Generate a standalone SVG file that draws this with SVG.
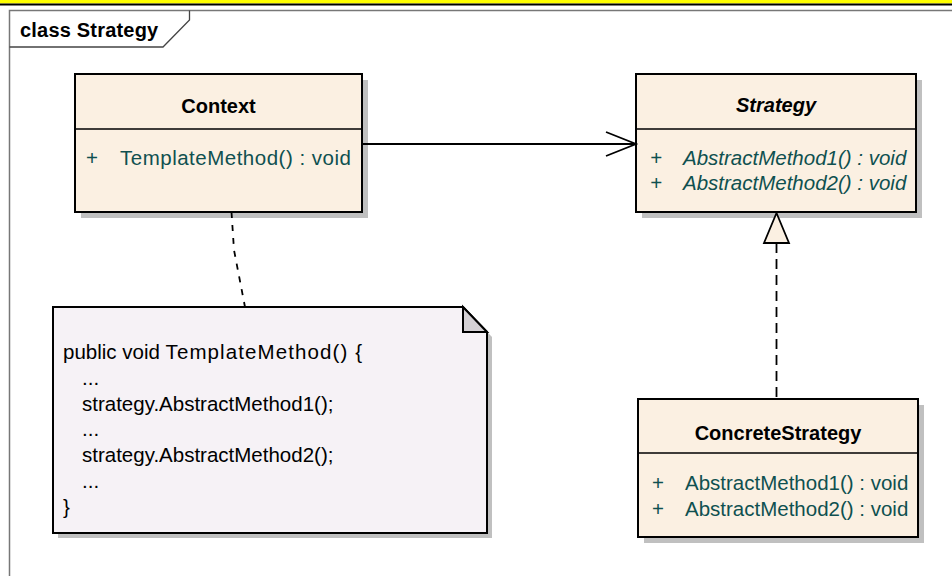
<svg xmlns="http://www.w3.org/2000/svg" width="952" height="576" viewBox="0 0 952 576">
<defs>
<style>
.box{fill:#FBF0E2;stroke:#000;stroke-width:2}
.shadow{fill:#C0C0C0}
.div{stroke:#000;stroke-width:1.5}
.title{font-family:"Liberation Sans",Arial,sans-serif;font-size:20px;font-weight:bold;fill:#000;text-anchor:middle}
.meth{font-family:"Liberation Sans",Arial,sans-serif;font-size:20.5px;fill:#0F5050}
.it{font-style:italic}
.note{font-family:"Liberation Sans",Arial,sans-serif;font-size:20.5px;fill:#000}
.conn{fill:none;stroke:#000;stroke-width:1.8}
</style>
</defs>
<rect x="0" y="0" width="952" height="576" fill="#fff"/>
<rect x="0" y="0" width="952" height="3.5" fill="#FFFF00"/>
<rect x="0" y="3.5" width="952" height="2" fill="#000"/>
<g id="frame">
<path d="M9.5,580 L9.5,10.5 L960,10.5" fill="none" stroke="#777" stroke-width="1.5"/>
<path d="M9.5,47 L163,47 L189.5,20 L189.5,10.5" fill="none" stroke="#444" stroke-width="1.3"/>
<text x="20" y="37" font-family="Liberation Sans,Arial,sans-serif" font-size="20" font-weight="bold" letter-spacing="0.2">class Strategy</text>
</g>
<g id="Context">
<rect class="shadow" x="81" y="80" width="287" height="138"/>
<rect class="box" x="75" y="74" width="287" height="138"/>
<line class="div" x1="75" y1="129" x2="362" y2="129"/>
<text class="title" x="218.5" y="113">Context</text>
<text class="meth" x="86" y="165">+</text>
<text class="meth" x="120" y="165" letter-spacing="0.5">TemplateMethod() : void</text>
</g>
<g id="Strategy">
<rect class="shadow" x="642" y="80" width="280" height="138"/>
<rect class="box" x="636" y="74" width="280" height="138"/>
<line class="div" x1="636" y1="129" x2="916" y2="129"/>
<text class="title it" x="776" y="112">Strategy</text>
<text class="meth it" x="650" y="165">+</text>
<text class="meth it" x="683" y="165">AbstractMethod1() : void</text>
<text class="meth it" x="650" y="190">+</text>
<text class="meth it" x="683" y="190">AbstractMethod2() : void</text>
</g>
<g id="ConcreteStrategy">
<rect class="shadow" x="644" y="405" width="280" height="138"/>
<rect class="box" x="638" y="399" width="280" height="138"/>
<line class="div" x1="638" y1="453" x2="918" y2="453"/>
<text class="title" x="778" y="440">ConcreteStrategy</text>
<text class="meth" x="652" y="490">+</text>
<text class="meth" x="685" y="490">AbstractMethod1() : void</text>
<text class="meth" x="652" y="516">+</text>
<text class="meth" x="685" y="516">AbstractMethod2() : void</text>
</g>
<g id="Note">
<path class="shadow" d="M58,313 L469,313 L492,337 L492,538 L58,538 Z"/>
<path d="M53,307 L463,307 L487,332 L487,533 L53,533 Z" fill="#F6F2F6" stroke="#000" stroke-width="2"/>
<path d="M463,307 L463,332 L487,332 Z" fill="#D4D0D4" stroke="#000" stroke-width="2" stroke-linejoin="miter"/>
<text class="note" x="63" y="359">public void <tspan letter-spacing="1.1">TemplateMethod() {</tspan></text>
<text class="note" x="82" y="384.8">...</text>
<text class="note" x="82" y="410.6">strategy.AbstractMethod1();</text>
<text class="note" x="82" y="436.4">...</text>
<text class="note" x="82" y="462.2">strategy.AbstractMethod2();</text>
<text class="note" x="82" y="488">...</text>
<text class="note" x="63" y="513.8">}</text>
</g>
<g id="connectors">
<line class="conn" x1="362" y1="144" x2="636" y2="144"/>
<path class="conn" d="M606,132 L636,144 L606,156"/>
<line class="conn" x1="776.5" y1="243" x2="776.5" y2="399" stroke-dasharray="10,6"/>
<path d="M776.5,213 L764,243 L789,243 Z" fill="#FBF0E2" stroke="#000" stroke-width="1.8" stroke-linejoin="miter"/>
<path class="conn" d="M231.5,212 L234,250 L245,307" stroke-dasharray="6,7"/>
</g>
</svg>
